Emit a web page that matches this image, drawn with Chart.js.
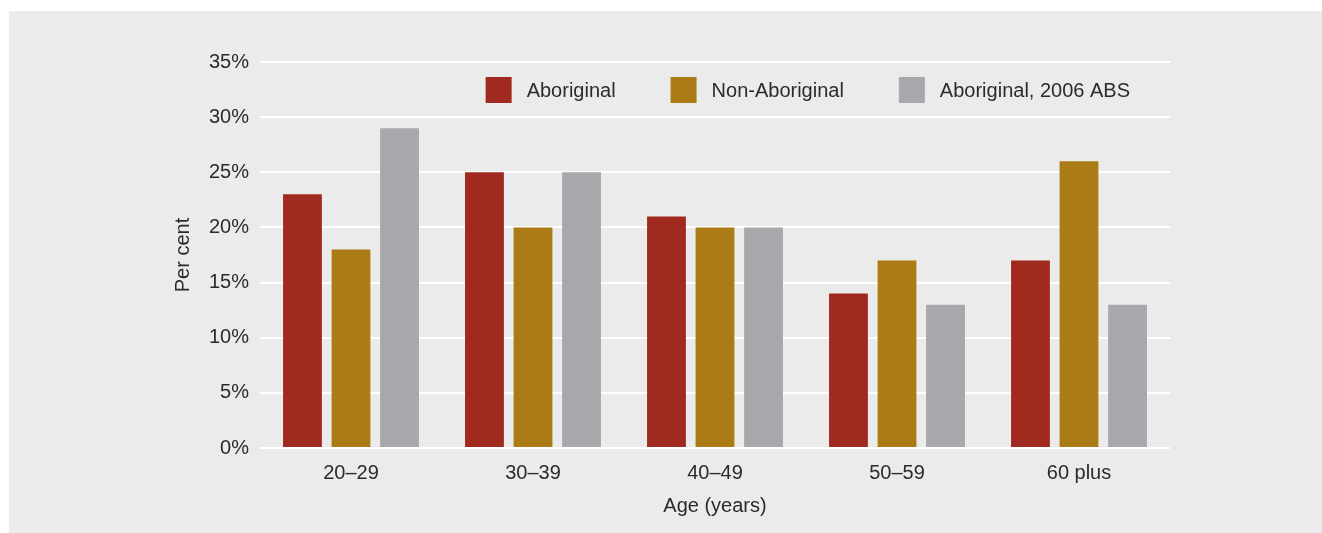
<!DOCTYPE html>
<html>
<head>
<meta charset="utf-8">
<script src="https://cdn.jsdelivr.net/npm/chart.js@4"></script>
<style>
  html, body { margin: 0; padding: 0; background: #fff; }
  #wrap { width: 1322px; height: 533px; }
</style>
</head>
<body>
<div id="wrap"><canvas id="myChart" width="1322" height="533"></canvas></div>
<script>
// data
var ageGroups = ["20–29", "30–39", "40–49", "50–59", "60 plus"];
var aboriginal = [23, 25, 21, 14, 17];
var nonAboriginal = [18, 20, 20, 17, 26];
var aboriginalAbs = [29, 25, 20, 13, 13];
var seriesNames = ["Aboriginal", "Non-Aboriginal", "Aboriginal, 2006 ABS"];
var yTicks = [0, 5, 10, 15, 20, 25, 30, 35];

var textColor = "#2b2b2b";
var fontFamily = "'Liberation Sans', Arial, sans-serif";
var fontSize = 20;

// grey panel behind the chart
const panelBg = {
  id: "panelBg",
  beforeDraw(chart) {
    const ctx = chart.ctx;
    ctx.save();
    ctx.fillStyle = "#ebebeb";
    ctx.fillRect(9, 11, chart.width - 9, chart.height - 11);
    ctx.restore();
  },
};

// legend drawn inside the plot, right side
const insideLegend = {
  id: "insideLegend",
  afterDraw(chart) {
    const ctx = chart.ctx;
    const area = chart.chartArea;
    const box = 26, gap = 15, spacing = 55;
    ctx.save();
    ctx.font = fontSize + "px " + fontFamily;
    let widths = chart.data.datasets.map((d) => ctx.measureText(d.label).width);
    let total = widths.reduce((a, b) => a + b, 0) + chart.data.datasets.length * (box + gap) + spacing * (chart.data.datasets.length - 1);
    let x = area.right - 40 - total;
    let y = area.top + 15;
    chart.data.datasets.forEach((d, i) => {
      ctx.fillStyle = d.backgroundColor;
      ctx.fillRect(x, y, box, box);
      ctx.fillStyle = textColor;
      ctx.textBaseline = "middle";
      ctx.textAlign = "left";
      ctx.fillText(d.label, x + box + gap, y + box / 2 + 1);
      x += box + gap + widths[i] + spacing;
    });
    ctx.restore();
  },
};

let data = {
  labels: ageGroups,
  datasets: [
    { label: seriesNames[0], data: aboriginal, backgroundColor: "#a12a20" },
    { label: seriesNames[1], data: nonAboriginal, backgroundColor: "#ab7c15" },
    { label: seriesNames[2], data: aboriginalAbs, backgroundColor: "#a7a8ac" },
  ],
};

let config = {
  type: "bar",
  data: data,
  options: {
    responsive: false,
    animation: false,
    layout: { padding: { left: 160, right: 152, top: 62, bottom: 0 } },
    datasets: { bar: { categoryPercentage: 0.8, barPercentage: 0.8 } },
    plugins: {
      legend: { display: false },
      tooltip: { enabled: false },
    },
    scales: {
      x: {
        grid: { display: false },
        border: { display: false },
        ticks: { color: textColor, font: { family: fontFamily, size: fontSize }, padding: 5 },
        title: {
          display: true,
          text: "Age (years)",
          color: textColor,
          font: { family: fontFamily, size: fontSize },
          padding: { top: 0, bottom: 15 },
        },
        afterFit(scale) { scale.height = 85; },
      },
      y: {
        min: 0,
        max: 35,
        afterBuildTicks(scale) { scale.ticks = yTicks.map((v) => ({ value: v })); },
        grid: { color: "#ffffff", lineWidth: 2, drawTicks: false },
        border: { display: false },
        ticks: {
          color: textColor,
          font: { family: fontFamily, size: fontSize },
          padding: 11,
          callback: (v) => v + "%",
        },
        title: {
          display: true,
          text: "Per cent",
          color: textColor,
          font: { family: fontFamily, size: fontSize },
          padding: { top: 11, bottom: 0 },
        },
        afterFit(scale) { scale.width = 100; },
      },
    },
  },
  plugins: [panelBg, insideLegend],
};

var myChart = new Chart(document.getElementById("myChart"), config);
</script>
</body>
</html>
